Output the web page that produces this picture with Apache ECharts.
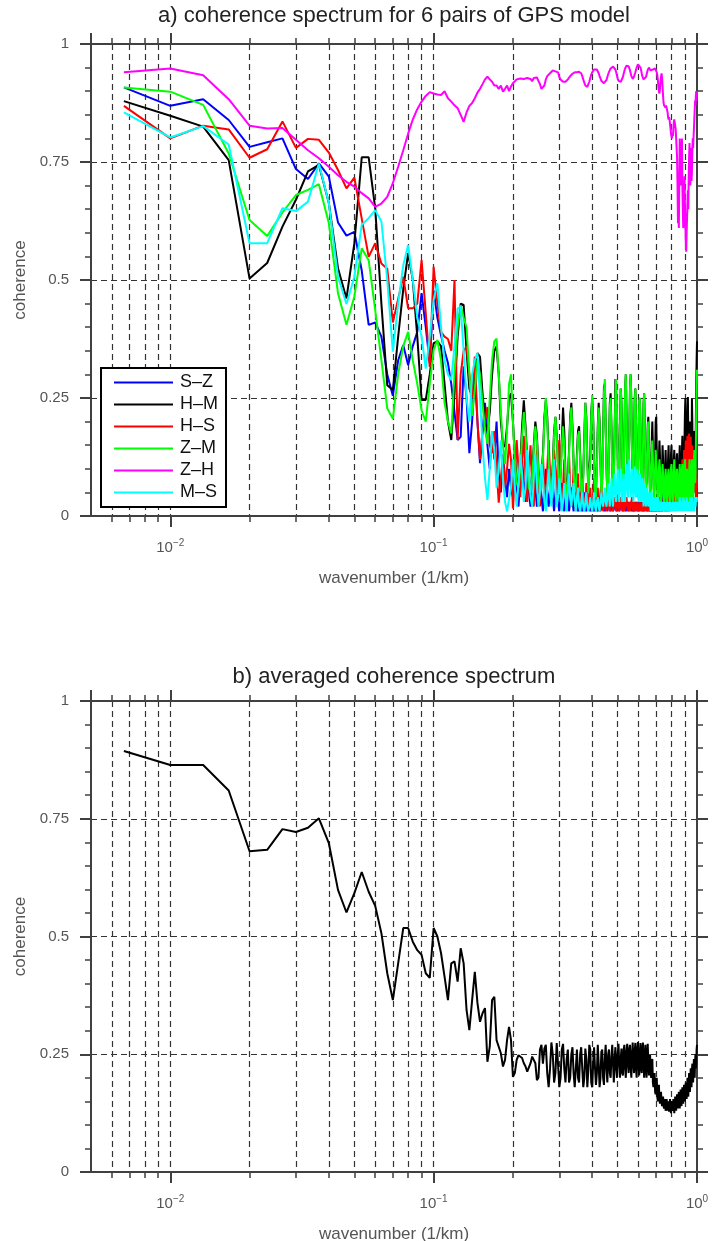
<!DOCTYPE html>
<html>
<head>
<meta charset="utf-8">
<script src="https://cdn.jsdelivr.net/npm/echarts@6/dist/echarts.min.js"></script>
<style>html,body{margin:0;padding:0;background:#fff}#chart{width:712px;height:1241px}</style>
</head>
<body>
<div id="chart"></div>
<script>
// ---------- DATA ----------
// spectral sampling: wavenumber k = n/300 (1/km), n = 2..300
const nFirst = 2, nLast = 300, kStep = 1 / 300;
const wavenumber = [];
for (let n = nFirst; n <= nLast; n++) wavenumber.push(n * kStep);

const pairNames = ['S\u2013Z', 'H\u2013M', 'H\u2013S', 'Z\u2013M', 'Z\u2013H', 'M\u2013S'];
const pairColors = ['#0000ff', '#000000', '#ff0000', '#00ff00', '#ff00ff', '#00ffff'];

const cohSZ = [
.908,.869,.883,.839,.782,.792,.800,.735,
.714,.747,.719,.622,.594,.602,.52,.405,.41,.38,
.30,.255,.33,.362,.32,.36,.39,.472,.40,.324,
.478,.42,.383,.35,.324,.28,.22,.161,.168,.317,
.25,.133,.2,.3,.2,.112,.18,.24,.15,.1,
.18,.12,.2,.09,.05,.13,.08,.04,.1,.06,
.04,.1,.06,.02,.08,.12,.07,.03,.09,.05,
.02,.07,.11,.06,.02,.05,.09,.04,.01,.06,
.1,.05,.02,.06,.09,.04,.01,.05,.08,.03,
.01,.04,.07,.03,.01,.05,.08,.04,.01,.03,
.06,.03,.01,.04,.06,.02,.01,.03,.05,.02,
.01,.03,.05,.02,.01,.02,.04,.02,.01,.03,
.04,.02,.01,.02,.04,.03,.01,.02,.03,.01,
.01,.03,.04,.02,.01,.02,.03,.01,.02,.04,
.02,.01,.02,.03,.01,.01,.02,.03,.02,.01,
.02,.03,.01,.01,.02,.03,.02,.01,.02,.03,
.02,.01,.01,.02,.03,.01,.01,.02,.03,.02,
.01,.02,.03,.01,.01,.02,.03,.02,.01,.02,
.03,.01,.01,.02,.03,.02,.01,.02,.03,.01,
.01,.02,.03,.02,.01,.01,.03,.02,.01,.02,
.03,.02,.01,.02,.03,.01,.01,.03,.02,.01,
.02,.04,.02,.01,.03,.04,.02,.01,.03,.05,
.03,.01,.02,.05,.04,.02,.03,.06,.04,.02,
.03,.06,.05,.02,.04,.07,.05,.03,.05,.08,
.06,.03,.05,.08,.07,.04,.06,.09,.07,.04,
.06,.1,.08,.05,.07,.11,.09,.05,.08,.12,
.09,.06,.08,.12,.1,.06,.09,.13,.1,.07,
.1,.14,.11,.07,.1,.15,.12,.08,.11,.16,
.12,.08,.1,.14,.11,.07,.09,.12,.09,.06,
.05,.08,.1,.07,.05,.06,.09,.06,.04,.05,
.06];

const cohHM = [
.879,.848,.825,.754,.503,.536,.613,.67,
.73,.744,.663,.525,.461,.578,.76,.76,.652,.45,
.277,.267,.38,.48,.557,.5,.38,.246,.246,.3,
.366,.37,.36,.28,.2,.161,.26,.38,.45,.447,
.35,.27,.253,.3,.345,.337,.26,.2,.18,.22,
.3,.35,.359,.3,.2,.15,.147,.19,.249,.26,
.2,.13,.08,.06,.11,.19,.245,.19,.12,.07,
.06,.09,.15,.2,.17,.1,.06,.07,.13,.21,
.245,.21,.13,.07,.06,.11,.18,.21,.17,.11,
.06,.09,.16,.23,.18,.09,.05,.07,.14,.21,
.24,.19,.11,.06,.07,.13,.18,.19,.13,.07,
.05,.09,.17,.24,.21,.12,.06,.06,.13,.22,
.248,.21,.12,.06,.05,.11,.19,.24,.2,.11,
.06,.08,.17,.274,.28,.2,.1,.05,.07,.16,
.24,.26,.19,.1,.05,.08,.18,.29,.29,.22,
.12,.06,.09,.2,.27,.24,.14,.06,.07,.17,
.27,.30,.22,.12,.06,.08,.18,.27,.30,.24,
.14,.06,.07,.15,.25,.27,.2,.1,.05,.08,
.17,.24,.25,.19,.1,.05,.07,.15,.24,.26,
.2,.11,.06,.07,.14,.19,.21,.16,.09,.05,
.06,.11,.16,.2,.15,.08,.05,.07,.13,.2,
.21,.14,.07,.04,.06,.12,.16,.13,.07,.04,
.05,.1,.15,.12,.06,.03,.05,.1,.14,.1,
.05,.04,.07,.12,.15,.1,.05,.04,.08,.13,
.15,.1,.05,.04,.08,.12,.14,.1,.06,.04,
.07,.12,.133,.09,.05,.04,.07,.12,.15,.1,
.05,.04,.08,.14,.17,.12,.06,.04,.09,.16,
.22,.25,.2,.1,.05,.08,.2,.252,.18,.08,
.1,.16,.2,.14,.07,.06,.12,.249,.2,.1,
.05,.08,.14,.18,.15,.1,.12,.2,.28,.33,
.37];

const cohHS = [
.869,.80,.827,.819,.759,.777,.836,.78,
.799,.797,.77,.733,.694,.717,.63,.549,.578,.535,
.524,.41,.46,.507,.44,.44,.45,.542,.43,.316,
.528,.45,.39,.38,.375,.35,.5,.161,.3,.35,
.359,.3,.25,.338,.2,.12,.18,.2,.231,.15,
.133,.18,.1,.028,.08,.13,.06,.1,.153,.12,
.016,.08,.161,.1,.04,.12,.17,.08,.03,.1,
.15,.06,.02,.09,.14,.07,.02,.08,.13,.05,
.02,.1,.161,.09,.03,.07,.14,.1,.04,.12,
.161,.07,.02,.06,.12,.05,.01,.08,.13,.06,
.02,.05,.1,.04,.01,.06,.09,.03,.01,.05,
.08,.04,.01,.03,.07,.05,.02,.04,.06,.02,
.01,.05,.08,.03,.01,.04,.06,.02,.01,.05,
.07,.03,.01,.02,.05,.03,.01,.04,.06,.02,
.01,.03,.05,.02,.01,.03,.04,.02,.01,.03,
.04,.02,.01,.02,.04,.03,.01,.02,.03,.01,
.01,.03,.04,.02,.01,.02,.03,.01,.01,.03,
.04,.02,.01,.02,.03,.01,.01,.02,.03,.01,
.01,.02,.03,.01,.01,.02,.03,.01,.01,.02,
.03,.01,.01,.02,.03,.01,.01,.02,.02,.01,
.01,.02,.03,.01,.01,.02,.02,.01,.02,.03,
.02,.01,.02,.03,.01,.01,.03,.02,.01,.02,
.03,.01,.01,.02,.04,.02,.01,.03,.04,.02,
.01,.02,.04,.03,.01,.02,.05,.03,.01,.03,
.05,.03,.02,.04,.06,.03,.02,.05,.07,.04,
.02,.05,.08,.05,.03,.06,.09,.05,.03,.07,
.1,.06,.04,.08,.12,.08,.05,.1,.14,.09,
.06,.11,.16,.1,.06,.12,.17,.1,.07,.13,
.175,.11,.07,.12,.168,.1,.06,.11,.15,.09,
.05,.09,.13,.08,.05,.07,.1,.06,.04,.06,
.08];

const cohZM = [
.908,.899,.871,.768,.627,.593,.643,.68,
.691,.703,.62,.472,.405,.465,.567,.542,.436,.33,
.228,.206,.3,.36,.39,.33,.28,.224,.2,.28,
.352,.373,.33,.24,.2,.175,.3,.4,.447,.42,
.40,.3,.212,.27,.331,.3,.24,.183,.153,.25,
.33,.37,.376,.3,.22,.15,.11,.182,.28,.30,
.2,.12,.07,.06,.10,.17,.22,.18,.11,.06,
.05,.08,.14,.19,.16,.09,.05,.06,.12,.2,
.25,.2,.12,.06,.05,.1,.17,.21,.17,.1,
.05,.08,.15,.19,.15,.08,.04,.06,.13,.2,
.23,.18,.1,.05,.06,.12,.17,.18,.12,.06,
.04,.08,.16,.24,.2,.11,.05,.05,.12,.21,
.256,.2,.11,.05,.04,.1,.18,.23,.19,.1,
.05,.07,.16,.26,.29,.2,.09,.04,.06,.15,
.23,.25,.18,.09,.04,.07,.17,.26,.29,.22,
.11,.05,.08,.19,.27,.24,.13,.05,.06,.16,
.27,.30,.22,.11,.05,.07,.17,.27,.30,.24,
.13,.05,.06,.14,.24,.27,.2,.09,.04,.07,
.16,.24,.25,.18,.09,.04,.06,.14,.23,.26,
.2,.1,.05,.06,.13,.18,.2,.15,.08,.04,
.05,.1,.14,.16,.12,.06,.03,.05,.1,.14,
.14,.1,.05,.03,.05,.1,.12,.1,.06,.03,
.04,.08,.11,.09,.05,.03,.04,.08,.1,.08,
.04,.03,.05,.09,.1,.07,.04,.03,.06,.1,
.11,.08,.04,.03,.06,.1,.12,.09,.05,.03,
.05,.09,.1,.07,.04,.03,.05,.09,.11,.08,
.04,.03,.06,.1,.11,.08,.04,.03,.07,.11,
.12,.08,.04,.03,.06,.1,.1,.06,.03,.05,
.09,.12,.1,.06,.03,.04,.08,.12,.1,.05,
.03,.05,.1,.14,.12,.07,.08,.15,.22,.27,
.31];

const cohZH = [
.94,.948,.934,.883,.827,.821,.822,.797,
.775,.758,.74,.722,.708,.698,.684,.673,.655,.662,
.676,.705,.74,.775,.81,.84,.862,.878,.89,.898,
.895,.893,.892,.9,.885,.878,.87,.864,.85,.835,
.855,.869,.875,.885,.897,.905,.915,.925,.931,.925,
.92,.912,.912,.905,.912,.899,.905,.912,.9,.91,
.917,.92,.925,.922,.927,.924,.926,.922,.928,.925,
.926,.921,.928,.924,.929,.922,.915,.905,.902,.912,
.925,.932,.936,.938,.94,.944,.945,.942,.945,.94,
.93,.925,.922,.92,.918,.92,.922,.925,.928,.932,
.935,.937,.939,.94,.941,.94,.942,.941,.94,.938,
.932,.925,.918,.912,.91,.909,.913,.92,.928,.935,
.94,.944,.946,.947,.948,.946,.942,.938,.932,.927,
.922,.92,.918,.917,.919,.92,.924,.93,.936,.941,
.945,.948,.95,.951,.952,.952,.95,.946,.94,.933,
.927,.922,.92,.919,.92,.92,.924,.93,.937,.943,
.948,.952,.954,.955,.955,.953,.949,.944,.938,.932,
.928,.926,.929,.931,.935,.94,.945,.95,.954,.957,
.958,.957,.955,.95,.945,.938,.932,.928,.925,.924,
.924,.926,.93,.935,.94,.945,.948,.95,.949,.946,
.944,.946,.948,.947,.946,.945,.948,.95,.948,.946,
.945,.94,.935,.925,.91,.9,.895,.905,.92,.93,
.938,.93,.91,.89,.875,.87,.872,.87,.865,.87,
.87,.86,.855,.845,.84,.845,.84,.83,.82,.81,
.805,.80,.81,.805,.82,.835,.84,.842,.838,.82,
.80,.78,.76,.70,.62,.64,.61,.72,.80,.76,
.70,.79,.74,.80,.70,.65,.61,.62,.68,.72,
.66,.62,.58,.56,.60,.63,.66,.69,.65,.72,
.76,.79,.74,.70,.75,.78,.71,.73,.77,.80,
.78,.80,.82,.84,.86,.88,.87,.89,.90,.88,
.90];

const cohMS = [
.855,.802,.826,.787,.578,.578,.652,.646,
.666,.747,.663,.507,.449,.507,.617,.631,.648,.624,
.5,.348,.45,.531,.574,.5,.42,.38,.312,.38,
.458,.493,.4,.33,.3,.288,.36,.44,.443,.35,
.25,.2,.3,.33,.345,.25,.15,.08,.034,.1,
.18,.14,.06,.1,.16,.08,.03,.01,.007,.06,
.12,.06,.02,.07,.13,.09,.03,.06,.14,.1,
.04,.02,.08,.13,.07,.02,.05,.11,.08,.03,
.01,.06,.1,.05,.02,.07,.12,.06,.02,.04,
.08,.05,.01,.03,.07,.04,.01,.05,.09,.04,
.02,.05,.07,.03,.01,.04,.06,.02,.01,.03,
.05,.02,.01,.03,.05,.02,.01,.02,.04,.02,
.01,.03,.05,.02,.01,.03,.04,.02,.01,.03,
.05,.03,.02,.04,.06,.03,.02,.04,.07,.04,
.02,.05,.08,.04,.02,.06,.09,.05,.03,.07,
.1,.06,.03,.06,.1,.07,.03,.05,.09,.06,
.03,.07,.11,.07,.04,.08,.12,.08,.04,.06,
.1,.07,.03,.06,.105,.08,.04,.06,.1,.07,
.03,.05,.09,.06,.03,.05,.08,.05,.02,.04,
.07,.05,.02,.04,.06,.04,.02,.03,.05,.03,
.01,.03,.05,.03,.01,.02,.04,.02,.01,.03,
.04,.02,.01,.02,.04,.03,.01,.02,.03,.01,
.01,.03,.02,.01,.02,.03,.01,.01,.02,.03,
.02,.01,.02,.03,.01,.01,.02,.03,.02,.01,
.01,.02,.03,.01,.01,.02,.03,.02,.01,.02,
.03,.01,.01,.02,.03,.02,.01,.02,.04,.02,
.01,.02,.03,.02,.01,.02,.04,.03,.01,.02,
.03,.02,.01,.02,.04,.03,.01,.02,.03,.02,
.01,.02,.03,.04,.02,.01,.03,.04,.02,.01,
.02,.03,.02,.01,.03,.04,.02,.03,.04,.03,
.04];

const cohAverage = [
.894,.864,.864,.81,.681,.684,.728,.722,
.731,.751,.698,.599,.551,.592,.637,.595,.565,.507,
.422,.365,.443,.518,.518,.489,.471,.461,.422,.412,
.518,.50,.465,.415,.365,.443,.447,.404,.475,.443,
.344,.301,.365,.425,.359,.319,.337,.348,.234,.266,
.365,.372,.28,.266,.252,.224,.238,.28,.308,.28,
.202,.21,.238,.248,.248,.242,.231,.224,.213,.217,
.231,.245,.248,.231,.195,.20,.26,.27,.23,.262,
.27,.21,.18,.22,.275,.25,.19,.21,.274,.23,
.18,.2,.26,.272,.22,.19,.24,.26,.19,.2,
.25,.265,.21,.18,.22,.26,.2,.19,.25,.265,
.22,.18,.2,.262,.24,.18,.215,.27,.26,.19,
.18,.23,.265,.22,.185,.21,.27,.23,.18,.2,
.255,.26,.2,.185,.24,.27,.22,.19,.25,.26,
.21,.2,.245,.27,.23,.19,.24,.265,.22,.2,
.25,.272,.23,.2,.24,.262,.21,.205,.26,.27,
.22,.2,.255,.272,.23,.21,.262,.27,.22,.2,
.25,.275,.23,.21,.255,.274,.22,.2,.26,.276,
.23,.205,.25,.274,.22,.21,.262,.275,.23,.2,
.24,.27,.22,.2,.25,.272,.23,.205,.23,.25,
.21,.2,.23,.24,.19,.18,.2,.21,.17,.165,
.19,.2,.16,.15,.17,.185,.155,.145,.16,.17,
.15,.14,.155,.16,.14,.135,.15,.155,.13,.14,
.155,.14,.13,.15,.145,.128,.14,.155,.135,.125,
.14,.15,.13,.135,.155,.14,.125,.145,.16,.14,
.13,.15,.165,.14,.135,.155,.17,.145,.135,.16,
.175,.15,.14,.165,.18,.155,.145,.17,.185,.16,
.15,.175,.19,.165,.155,.18,.2,.17,.16,.185,
.21,.18,.17,.2,.22,.19,.18,.215,.23,.2,
.19,.22,.24,.21,.2,.235,.25,.22,.23,.26,
.27];

const pairValues = [cohSZ, cohHM, cohHS, cohZM, cohZH, cohMS];

// axis / tick values
const xMin = 0.005, xMax = 1;
const yTickValues = [0, 0.25, 0.5, 0.75, 1];
const xGridValues = [0.006,0.007,0.008,0.009,0.01,0.02,0.03,0.04,0.05,0.06,0.07,0.08,0.09,0.1,0.2,0.3,0.4,0.5,0.6,0.7,0.8,0.9];

const titles = ['a) coherence spectrum for 6 pairs of GPS model', 'b) averaged coherence spectrum'];

// sanity check
const bad = [['SZ',cohSZ],['HM',cohHM],['HS',cohHS],['ZM',cohZM],['ZH',cohZH],['MS',cohMS],['AVG',cohAverage]]
  .filter(p => p[1].length !== wavenumber.length);
if (bad.length) throw new Error('length mismatch (' + wavenumber.length + '): ' + bad.map(p => p[0] + '=' + p[1].length).join(', '));

// ---------- STYLE ----------
const FONT = '"Liberation Sans", Arial, Helvetica, sans-serif';
const AX = '#404040';
const GRIDC = '#333333';
const DASH = [6, 4];
const LABELC = '#555555';

const gridBoxes = [
  { left: 91, top: 44, width: 606, height: 472 },
  { left: 91, top: 701, width: 606, height: 471 }
];

function expLabel(v) {
  const e = Math.round(Math.log10(v));
  return '{b|10}{s|' + (e < 0 ? '\u2212' + (-e) : String(e)) + '}';
}
const supRich = {
  b: { fontSize: 15, color: LABELC, fontFamily: FONT },
  s: { fontSize: 10, color: LABELC, fontFamily: FONT, verticalAlign: 'bottom', padding: [0, 0, 9, 0] }
};

function xAxesFor(gi) {
  const line = { show: true, onZero: false, lineStyle: { color: AX, width: 2 } };
  const lo = Math.log10(xMin), hi = Math.log10(xMax);
  const gridTicks = xGridValues.map(Math.log10);
  const minorTick = { show: true, length: 6, customValues: gridTicks, lineStyle: { color: AX, width: 1.5 } };
  return [
    { type: 'log', logBase: 10, gridIndex: gi, position: 'bottom', min: xMin, max: xMax,
      axisLine: line, axisTick: { show: true, length: 11, lineStyle: { color: AX, width: 2 } },
      axisLabel: { show: true, margin: 22, showMinLabel: false, formatter: expLabel, rich: supRich },
      splitLine: { show: false }, minorTick: { show: false },
      name: 'wavenumber (1/km)', nameLocation: 'middle', nameGap: 54,
      nameTextStyle: { fontSize: 17, color: LABELC, fontFamily: FONT } },
    { type: 'value', gridIndex: gi, position: 'bottom', min: lo, max: hi,
      axisLine: { show: false, onZero: false }, axisLabel: { show: false },
      splitLine: { show: true, lineStyle: { type: DASH, color: GRIDC, width: 1.2 } },
      axisTick: minorTick },
    { type: 'log', logBase: 10, gridIndex: gi, position: 'top', min: xMin, max: xMax,
      axisLine: line, axisTick: { show: true, length: 11, lineStyle: { color: AX, width: 2 } },
      axisLabel: { show: false }, splitLine: { show: false } },
    { type: 'value', gridIndex: gi, position: 'top', min: lo, max: hi,
      axisLine: { show: false, onZero: false }, axisLabel: { show: false }, splitLine: { show: false }, axisTick: minorTick }
  ];
}

function yAxesFor(gi) {
  const line = { show: true, onZero: false, lineStyle: { color: AX, width: 2 } };
  const tick = { show: true, length: 11, lineStyle: { color: AX, width: 2 } };
  const minor = { show: true, splitNumber: 5, length: 6, lineStyle: { color: AX, width: 1.5 } };
  return [
    { type: 'value', gridIndex: gi, position: 'left', min: yTickValues[0], max: yTickValues[yTickValues.length - 1], interval: 0.25,
      axisLine: line, axisTick: tick, minorTick: minor,
      axisLabel: { show: true, margin: 22, color: LABELC, fontSize: 15, fontFamily: FONT },
      splitLine: { show: true, lineStyle: { type: DASH, color: GRIDC, width: 1.2 } },
      name: 'coherence', nameLocation: 'middle', nameGap: 62,
      nameTextStyle: { fontSize: 17, color: LABELC, fontFamily: FONT } },
    { type: 'value', gridIndex: gi, position: 'right', min: yTickValues[0], max: yTickValues[yTickValues.length - 1], interval: 0.25,
      axisLine: line, axisTick: tick, minorTick: minor,
      axisLabel: { show: false }, splitLine: { show: false } }
  ];
}

const series = [];
pairNames.forEach((name, i) => {
  series.push({
    type: 'line', name: name, xAxisIndex: 0, yAxisIndex: 0, z: 2,
    data: wavenumber.map((k, j) => [k, pairValues[i][j]]),
    symbol: 'none', showSymbol: false, animation: false,
    lineStyle: { color: pairColors[i], width: 2 }, itemStyle: { color: pairColors[i] },
    emphasis: { disabled: true }
  });
});
series.push({
  type: 'line', name: 'average', xAxisIndex: 4, yAxisIndex: 2, z: 2,
  data: wavenumber.map((k, j) => [k, cohAverage[j]]),
  symbol: 'none', showSymbol: false, animation: false,
  lineStyle: { color: '#000000', width: 2 }, itemStyle: { color: '#000000' },
  emphasis: { disabled: true }
});

const option = {
  backgroundColor: '#ffffff',
  animation: false,
  title: titles.map((t, i) => ({
    text: t, left: 394, top: i === 0 ? 5 : 666, textAlign: 'center', padding: 0,
    textStyle: { fontSize: 22, fontWeight: 'normal', color: '#222', fontFamily: FONT }
  })),
  legend: {
    data: pairNames, orient: 'vertical', left: 101, top: 368,
    icon: 'rect', itemWidth: 59, itemHeight: 2, itemGap: 3, padding: [5, 8, 5, 13],
    borderColor: '#000', borderWidth: 2, borderRadius: 0, backgroundColor: '#fff',
    selectedMode: false,
    textStyle: { fontSize: 18, lineHeight: 19, color: '#111', fontFamily: FONT, padding: [0, 0, 0, 2] }
  },
  grid: gridBoxes.map(g => Object.assign({ containLabel: false, outerBoundsMode: 'none' }, g)),
  xAxis: xAxesFor(0).concat(xAxesFor(1)),
  yAxis: yAxesFor(0).concat(yAxesFor(1)),
  series: series
};

const chart = echarts.init(document.getElementById('chart'), null, { renderer: 'canvas', width: 712, height: 1241 });
chart.setOption(option);
</script>
</body>
</html>
